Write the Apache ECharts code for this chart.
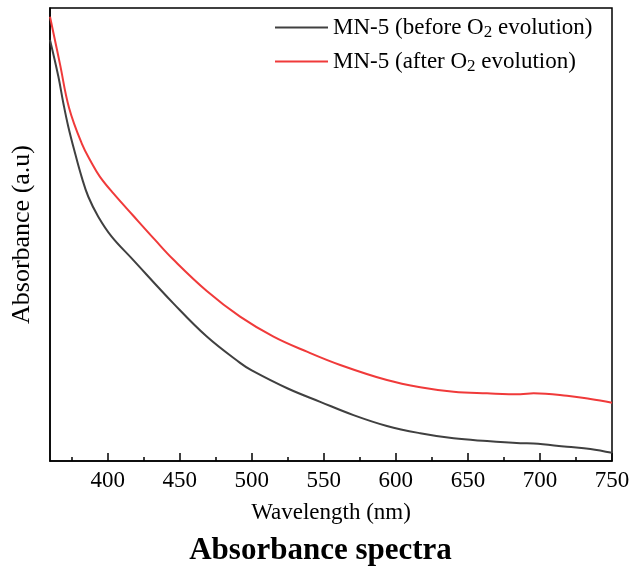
<!DOCTYPE html>
<html>
<head>
<meta charset="utf-8">
<script src="https://cdn.jsdelivr.net/npm/echarts@6/dist/echarts.min.js"></script>
<style>html,body{margin:0;padding:0;background:#fff}#c{width:641px;height:566px}</style>
</head>
<body>
<div id="c"></div>
<script>
// ---- data ----
const wlBefore = [360, 365.8, 369.3, 372.7, 377.4, 382, 386.6, 393.5, 402.8, 416.7, 445.6, 468.8, 491.9, 500, 525, 547.5, 570.6, 593.8, 616.9, 640.1, 663.3, 686.4, 695.6, 718.8, 735, 750];
const absBefore = [1.394, 1.273, 1.184, 1.107, 1.019, 0.940, 0.875, 0.809, 0.743, 0.671, 0.522, 0.412, 0.325, 0.300, 0.240, 0.196, 0.152, 0.116, 0.092, 0.075, 0.066, 0.059, 0.058, 0.047, 0.040, 0.027];
const wlAfter = [360, 366.9, 373.2, 382, 389, 394.7, 404, 417.8, 432.9, 445.6, 468.8, 491.9, 515.1, 538.3, 561.4, 593.8, 616.9, 640.1, 663.3, 686.4, 695.6, 718.8, 735, 750];
const absAfter = [1.471, 1.315, 1.170, 1.052, 0.986, 0.941, 0.886, 0.812, 0.732, 0.667, 0.563, 0.478, 0.412, 0.362, 0.318, 0.268, 0.244, 0.229, 0.224, 0.221, 0.224, 0.216, 0.205, 0.193];
const majorTicks = [400, 450, 500, 550, 600, 650, 700, 750];
const minorTicks = [375, 425, 475, 525, 575, 625, 675, 725];
const seriesNames = ['MN-5 (before O2 evolution)', 'MN-5 (after O2 evolution)'];
const legendRich = {
  'MN-5 (before O2 evolution)': 'MN-5 (before O{s|2} evolution)',
  'MN-5 (after O2 evolution)': 'MN-5 (after O{s|2} evolution)'
};

const FONT = '"Liberation Serif", "Times New Roman", serif';
const zip = (xs, ys) => xs.map((x, i) => [x, ys[i]]);

const chart = echarts.init(document.getElementById('c'), null, {renderer: 'canvas'});
chart.setOption({
  animation: false,
  backgroundColor: '#fff',
  title: {
    text: 'Absorbance spectra',
    left: 'center',
    top: 530,
    textStyle: {fontFamily: FONT, fontSize: 31, fontWeight: 'bold', color: '#000'}
  },
  legend: {
    orient: 'vertical',
    left: 270,
    top: 9,
    icon: 'rect',
    itemWidth: 53,
    itemHeight: 2,
    itemGap: 7,
    data: seriesNames,
    formatter: name => legendRich[name],
    textStyle: {
      fontFamily: FONT, fontSize: 23, color: '#000', lineHeight: 27,
      rich: {
        s: {fontFamily: FONT, fontSize: 17, color: '#000', lineHeight: 10, verticalAlign: 'bottom'}
      }
    }
  },
  grid: {
    left: 50, right: 29, top: 8, bottom: 105,
    show: true, borderColor: '#000', borderWidth: 1.5, backgroundColor: 'transparent'
  },
  xAxis: [
    {
      type: 'value', min: 360, max: 750, position: 'bottom',
      name: 'Wavelength (nm)', nameLocation: 'middle', nameGap: 40,
      nameTextStyle: {fontFamily: FONT, fontSize: 23, color: '#000'},
      axisLine: {show: true, lineStyle: {color: '#000', width: 1.5}},
      axisTick: {show: true, inside: true, length: 8, customValues: majorTicks, lineStyle: {color: '#000', width: 1.5}},
      axisLabel: {show: true, customValues: majorTicks, margin: 8, fontFamily: FONT, fontSize: 23, color: '#000'},
      splitLine: {show: false}
    },
    {
      type: 'value', min: 360, max: 750, position: 'bottom', offset: 0,
      axisLine: {show: false},
      axisTick: {show: true, inside: true, length: 4, customValues: minorTicks, lineStyle: {color: '#000', width: 1.5}},
      axisLabel: {show: false},
      splitLine: {show: false}
    }
  ],
  yAxis: {
    type: 'value', min: 0, max: 1.5,
    name: 'Absorbance (a.u)', nameLocation: 'middle', nameGap: 15,
    nameTextStyle: {fontFamily: FONT, fontSize: 26, color: '#000'},
    axisLine: {show: true, lineStyle: {color: '#000', width: 1.5}},
    axisTick: {show: false},
    axisLabel: {show: false},
    splitLine: {show: false}
  },
  series: [
    {
      name: seriesNames[0], type: 'line', xAxisIndex: 0, smooth: 0.4, showSymbol: false, symbol: 'none',
      lineStyle: {color: '#404040', width: 2}, itemStyle: {color: '#404040'},
      data: zip(wlBefore, absBefore)
    },
    {
      name: seriesNames[1], type: 'line', xAxisIndex: 0, smooth: 0.4, showSymbol: false, symbol: 'none',
      lineStyle: {color: '#f03a3a', width: 2}, itemStyle: {color: '#f03a3a'},
      data: zip(wlAfter, absAfter)
    }
  ]
});
</script>
</body>
</html>
